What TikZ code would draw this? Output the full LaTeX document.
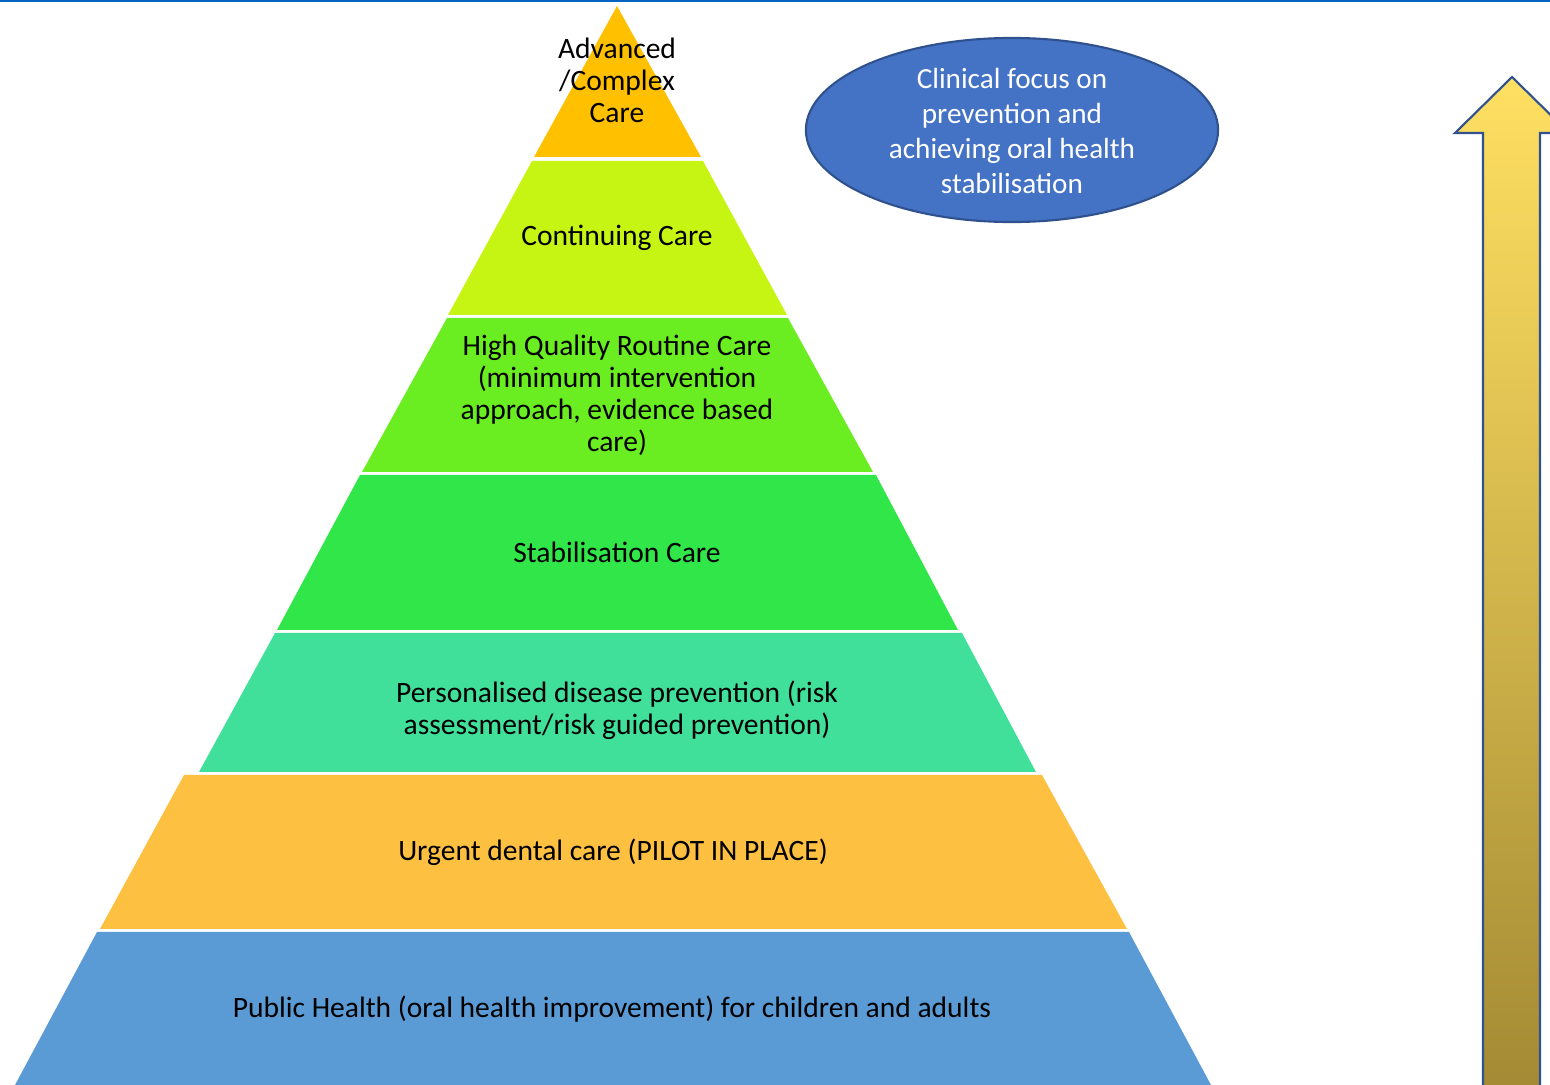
\documentclass[tikz,border=0pt]{standalone}
\usepackage{fontspec}
\setmainfont{Carlito}
\definecolor{capex}{HTML}{FFC000}
\definecolor{ccont}{HTML}{C6F514}
\definecolor{croutine}{HTML}{6AEE22}
\definecolor{cstab}{HTML}{31E648}
\definecolor{cprev}{HTML}{41E09A}
\definecolor{curgent}{HTML}{FEC040}
\definecolor{cpublic}{HTML}{5B9BD5}
\definecolor{cfocus}{HTML}{4472C4}
\definecolor{cfocusline}{HTML}{2F528F}
\definecolor{ctopline}{HTML}{0563C1}
\definecolor{carrowtop}{HTML}{FFE062}
\definecolor{carrowbot}{HTML}{A48A34}
\tikzset{
  tiertext/.style={align=center, text=black, font=\fontsize{8.4}{9.1}\selectfont},
  focustext/.style={text=white, align=center, font=\fontsize{8.3}{9.9}\selectfont},
  focusshape/.style={draw=cfocusline, line width=0.6pt, fill=cfocus},
  upshade/.style={top color=carrowtop, bottom color=carrowbot, draw=cfocusline, line width=0.6pt},
}
% one band of the pyramid: top y, left x, right x, bottom y, left x, right x, colour
\newcommand\pyrband[7]{%
  \fill[#7] (#2,#1) -- (#5,#4) -- (#6,#4) -- (#3,#1) -- cycle;}

\begin{document}
\begin{tikzpicture}[x=0.01cm, y=-0.01cm]
    \useasboundingbox (0,0) rectangle (1550,1085);
    \clip (0,0) rectangle (1550,1085);
    \draw[ctopline, line width=0.7pt] (0,0.5) -- (1550,0.5);
    % pyramid bands
    \pyrband{6}{617}{617}{157}{534}{701}{capex}
    \pyrband{161}{532}{703}{315}{448}{787}{ccont}
    \pyrband{318}{447}{788}{472}{362}{873}{croutine}
    \pyrband{475}{360}{876}{630}{277}{958}{cstab}
    \pyrband{633}{275}{962}{772}{199}{1036}{cprev}
    \pyrband{775}{184}{1042}{929}{100}{1127}{curgent}
    \pyrband{932}{97}{1129}{1085}{15}{1211}{cpublic}
    \node[tiertext] (advanced) at (617,80) {Advanced\\/Complex\\Care};
    \node[tiertext] (continuing) at (617,238) {Continuing Care};
    \node[tiertext] (routine) at (617,395) {High Quality Routine Care\\(minimum intervention\\approach, evidence based\\care)};
    \node[tiertext] (stabilisation) at (617,552) {Stabilisation Care};
    \node[tiertext] (prevention) at (617,710) {Personalised disease prevention (risk\\assessment/risk guided prevention)};
    \node[tiertext] (urgent) at (613,852) {Urgent dental care (PILOT IN PLACE)};
    \node[tiertext] (public) at (612,1009) {Public Health (oral health improvement) for children and adults};
    % focus bubble
    \draw[focusshape] (1012,130) ellipse [x radius=2.06cm, y radius=0.92cm];
    \node[focustext] (focus) at (1012,131) {Clinical focus on\\prevention and\\achieving oral health\\stabilisation};
    % upward arrow
    \shade[upshade] (1483,1090) -- (1483,133) -- (1455,133) -- (1512,77)
      -- (1569,133) -- (1540,133) -- (1540,1090) -- cycle;
  \end{tikzpicture}
\end{document}
